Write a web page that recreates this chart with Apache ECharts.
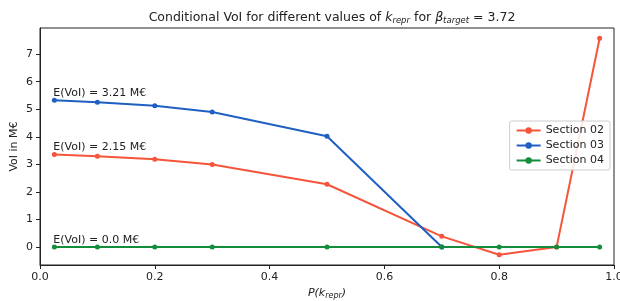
<!DOCTYPE html>
<html>
<head>
<meta charset="utf-8">
<script src="https://cdn.jsdelivr.net/npm/echarts@6/dist/echarts.min.js"></script>
<style>
  html, body { margin: 0; padding: 0; background: #fff; }
  #main { width: 620px; height: 301px; }
</style>
</head>
<body>
<div id="main"></div>
<script>
// P(k_repr) values
var kValues = [0.025, 0.1, 0.2, 0.3, 0.5, 0.7, 0.8, 0.9, 0.975];
var section02 = [3.36, 3.30, 3.19, 3.00, 2.28, 0.39, -0.28, 0.00, 7.58];
var section03 = [5.33, 5.26, 5.13, 4.90, 4.02, 0.00];
var section04 = [0, 0, 0, 0, 0, 0, 0, 0, 0];
var expected = ['2.15', '3.21', '0.0'];
var yTicks = [0, 1, 2, 3, 4, 5, 6, 7];

var font = 'DejaVu Sans';

function pairs(vals) {
    return vals.map(function (v, i) { return [kValues[i], v]; });
}

function makeSeries(name, vals, color, ev) {
    var data = pairs(vals);
    // annotation sits on the first point
    data[0] = {
        value: data[0],
        label: {
            show: true,
            position: 'top',
            align: 'left',
            offset: [-1, 6],
            formatter: 'E(VoI) = ' + ev + ' M€',
            color: '#222',
            fontFamily: font,
            fontSize: 11
        }
    };
    return {
        name: name,
        type: 'line',
        data: data,
        symbol: 'circle',
        symbolSize: 5,
        lineStyle: { width: 2, color: color },
        itemStyle: { color: color },
        emphasis: { disabled: true },
        animation: false
    };
}

var chart = echarts.init(document.getElementById('main'));
chart.setOption({
    title: {
        text: 'Conditional VoI for different values of {i|k}{s|repr} for {i|β}{s|target} = 3.72',
        left: 327,
        textAlign: 'center',
        top: 5,
        textStyle: {
            fontFamily: font,
            fontSize: 12.5,
            fontWeight: 'normal',
            color: '#222',
            rich: {
                i: { fontFamily: font, fontSize: 12.5, fontStyle: 'italic', color: '#222' },
                s: { fontFamily: font, fontSize: 8.5, fontStyle: 'italic', color: '#222', verticalAlign: 'bottom', padding: [6, 0, 0, 0] }
            }
        }
    },
    legend: {
        orient: 'vertical',
        right: 10,
        top: 121,
        itemWidth: 24,
        itemHeight: 8,
        itemGap: 4,
        padding: [4, 6, 4, 6],
        borderColor: '#ccc',
        borderWidth: 1,
        borderRadius: 2,
        backgroundColor: 'rgba(255,255,255,0.85)',
        textStyle: { fontFamily: font, fontSize: 11, color: '#222' },
        data: ['Section 02', 'Section 03', 'Section 04']
    },
    grid: {
        left: 40, right: 6, top: 28, bottom: 36,
        outerBoundsMode: 'none',
        show: true, borderColor: '#222', borderWidth: 1
    },
    xAxis: {
        type: 'value',
        min: 0, max: 1, interval: 0.2,
        name: '{i|P}(k{s|repr})',
        nameLocation: 'middle',
        nameGap: 22,
        nameTextStyle: {
            fontFamily: font, fontSize: 11, fontStyle: 'italic', color: '#222',
            rich: {
                i: { fontFamily: font, fontSize: 11, fontStyle: 'italic', color: '#222' },
                s: { fontFamily: font, fontSize: 8, fontStyle: 'italic', color: '#222', padding: [5, 0, 0, 0] }
            }
        },
        axisLine: { show: true, onZero: false, lineStyle: { color: '#222' } },
        axisTick: { show: true, length: 4, lineStyle: { color: '#222' } },
        axisLabel: {
            fontFamily: font, fontSize: 11, color: '#222', margin: 7,
            formatter: function (v) { return v.toFixed(1); }
        },
        splitLine: { show: false }
    },
    yAxis: {
        type: 'value',
        min: -0.65, max: 7.95,
        name: 'VoI in M€',
        nameLocation: 'middle',
        nameGap: 20,
        nameMoveOverlap: false,
        nameTextStyle: { fontFamily: font, fontSize: 11, color: '#222' },
        axisLine: { show: true, onZero: false, lineStyle: { color: '#222' } },
        axisTick: { show: true, length: 4, lineStyle: { color: '#222' }, customValues: yTicks },
        axisLabel: {
            fontFamily: font, fontSize: 11, color: '#222', margin: 7,
            customValues: yTicks,
            formatter: function (v) { return String(v); }
        },
        splitLine: { show: false }
    },
    series: [
        makeSeries('Section 02', section02, '#f5553a', expected[0]),
        makeSeries('Section 03', section03, '#1f5fc2', expected[1]),
        makeSeries('Section 04', section04, '#138c3c', expected[2])
    ]
});
</script>
</body>
</html>
